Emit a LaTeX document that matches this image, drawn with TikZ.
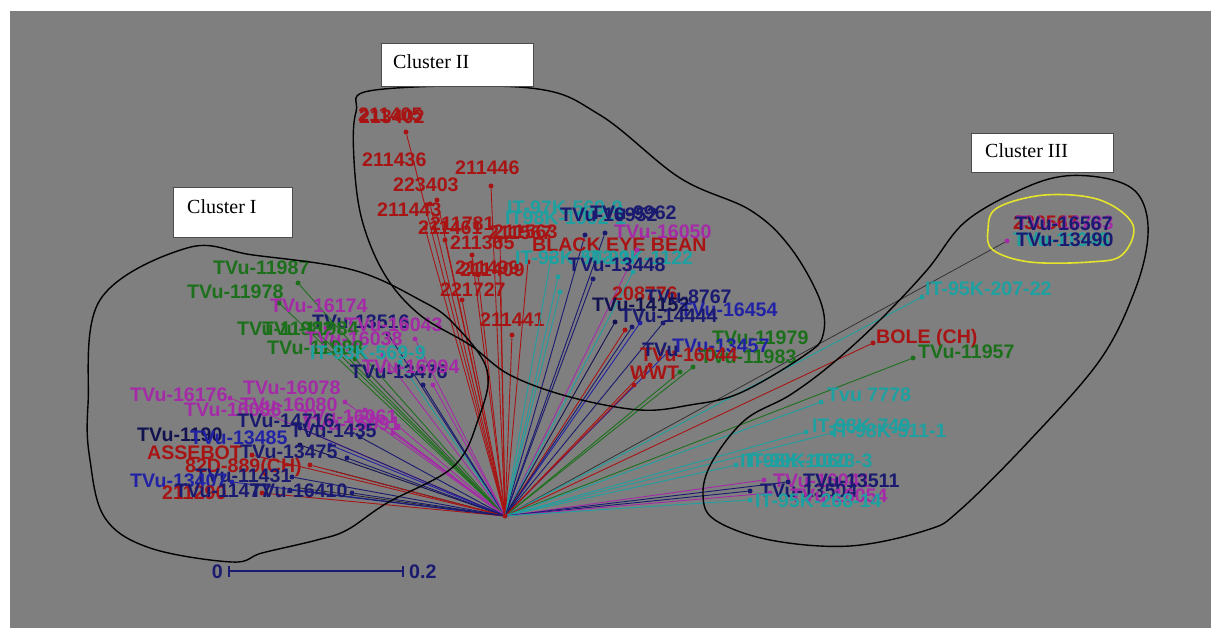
\documentclass[tikz,border=0pt]{standalone}
\usepackage{fontspec}
\setmainfont{Liberation Serif}
\newfontfamily\labfont{Liberation Sans}
\definecolor{bgc}{HTML}{7F7F7F}
\definecolor{rd}{HTML}{A81414}
\definecolor{gr}{HTML}{1C701C}
\definecolor{mg}{HTML}{A52AA8}
\definecolor{nv}{HTML}{1A1A70}
\definecolor{dn}{HTML}{121250}
\definecolor{bl}{HTML}{2222A6}
\definecolor{cy}{HTML}{1EA0A0}
\definecolor{yl}{HTML}{E4E42C}
\tikzset{
  lab/.style={font={\labfont\bfseries\fontsize{19.6}{19.6}\selectfont}, inner sep=0pt, anchor=west, text height=14pt, text depth=0pt},
  dotn/.style={circle, inner sep=0pt, minimum size=5pt, draw=none},
  br/.style={line width=0.9pt},
  outline/.style={draw=black, line width=1.4pt},
  cbox/.style={draw=black!70, fill=white, line width=0.8pt, anchor=north west, inner sep=0pt},
  ctext/.style={font={\fontsize{20}{20}\selectfont}, inner sep=0pt, anchor=west, text=black},
  scalebar/.style={draw=nv, line width=1.2pt}
}
\newcommand\myleaf[7]{\node[dotn,fill=#2] (#1) at (#3,#4) {}; \draw[br,#2] (root) -- (#1); \node[lab,text=#2] (#1l) at (#5,#6) {#7};}
\newcommand\mylab[5]{\node[lab,text=#2] (#1) at (#3,#4) {#5};}
\begin{document}
\begin{tikzpicture}[x=1pt,y=-1pt]
\useasboundingbox (0,0) rectangle (1211,628);
\fill[white] (0,0) rectangle (1211,628);
\fill[bgc] (10,11) rectangle (1211,628);

\node[dotn,fill=rd] (root) at (505,516) {};

% dark branches
\node[dotn,fill=mg] (top) at (1007,241) {};
\draw[line width=0.8pt, black!80] (root) -- (top);
\coordinate (k1) at (300,488);
\coordinate (k2) at (330,470);
\draw[line width=0.8pt, black!85] (root) -- (k1);
\draw[line width=0.8pt, black!85] (root) -- (k2);

% ---------- Cluster I ----------
\myleaf{a1}{gr}{298}{283}{213}{268}{TVu-11987}
\myleaf{a2}{gr}{279}{303}{187}{292}{TVu-11978}
\myleaf{a3}{mg}{326}{328}{270}{306}{TVu-16174}
\myleaf{a4}{nv}{388}{334}{312}{322}{TVu-13516}
\myleaf{a5}{mg}{415}{339}{345}{325}{TVu-16043}
\myleaf{a6}{gr}{320}{335}{237}{329}{TVu-11982}
\myleaf{a7}{gr}{332}{342}{262}{329}{TVu-11984}
\myleaf{a8}{mg}{383}{355}{305}{339}{TVu-16038}
\myleaf{a9}{gr}{355}{359}{267}{348}{TVu-11988}
\myleaf{a10}{cy}{400}{362}{310}{353}{IT-93K-569-9}
\myleaf{a11}{nv}{423}{385}{350}{372}{TVu-13476}
\myleaf{a12}{mg}{433}{385}{362}{367}{TVu-16094}
\myleaf{b1}{mg}{230}{398}{130}{395}{TVu-16176}
\myleaf{b2}{mg}{345}{402}{243}{388}{TVu-16078}
\myleaf{b3}{mg}{365}{410}{184}{410}{TVu-16086}
\myleaf{b4}{mg}{372}{415}{240}{405}{TVu-16080}
\myleaf{b5}{mg}{393}{433}{300}{417}{TVu-16061}
\myleaf{b6}{mg}{398}{426}{303}{424}{TVu-16091}
\myleaf{b7}{nv}{360}{437}{290}{430}{TVu-1435}
\myleaf{b8}{nv}{300}{428}{237}{421}{TVu-14716}
\myleaf{b9}{dn}{300}{445}{137}{435}{TVu-1190}
\myleaf{b10}{bl}{330}{445}{190}{437}{TVu-13485}
\myleaf{b11}{rd}{252}{455}{147}{452}{ASSEBOT}
\myleaf{b12}{nv}{347}{458}{240}{451}{TVu-13475}
\myleaf{b13}{rd}{310}{465}{185}{465}{82D-889(CH)}
\myleaf{b14}{nv}{292}{477}{195}{475}{TVu-11431}
\myleaf{b15}{bl}{232}{482}{130}{480}{TVu-13407}
\myleaf{b16}{rd}{262}{493}{162}{492}{211290}
\myleaf{b17}{nv}{290}{490}{175}{490}{TVu-11477}
\myleaf{b18}{nv}{352}{493}{250}{490}{TVu-16410}

% ---------- Cluster II ----------
\myleaf{c1}{rd}{406}{132}{358}{115}{211405}
\mylab{c1b}{rd}{359}{117}{213402}
\myleaf{c2}{rd}{430}{204}{362}{160}{211436}
\myleaf{c3}{rd}{491}{186}{455}{168}{211446}
\myleaf{c4}{rd}{437}{200}{393}{185}{223403}
\myleaf{c5}{rd}{425}{228}{377}{210}{211443}
\myleaf{c6}{rd}{445}{240}{418}{228}{211461}
\mylab{c6b}{rd}{430}{224}{211781}
\myleaf{c7}{rd}{472}{255}{450}{243}{211365}
\myleaf{c8}{rd}{500}{240}{488}{233}{211567}
\mylab{c8b}{rd}{493}{232}{211563}
\myleaf{c10}{rd}{478}{275}{455}{268}{211499}
\myleaf{c10b}{rd}{500}{272}{460}{270}{211409}
\myleaf{c11}{rd}{462}{300}{440}{290}{221727}
\myleaf{c12}{rd}{512}{335}{480}{320}{211441}
\myleaf{c13}{cy}{551}{258}{507}{208}{IT-97K-569-9}
\myleaf{c14}{cy}{558}{277}{505}{218}{IT98K-1092-1}
\myleaf{c15}{nv}{585}{235}{560}{215}{TVu-16952}
\myleaf{c16}{nv}{605}{233}{590}{213}{TVu-9962}
\myleaf{c9}{rd}{528}{262}{532}{245}{BLACK EYE BEAN}
\myleaf{c17}{mg}{637}{250}{614}{232}{TVu-16050}
\myleaf{c18}{cy}{560}{292}{515}{258}{IT-93K-503-1}
\myleaf{c19}{cy}{633}{272}{585}{258}{IT-99K-1122}
\myleaf{c20}{nv}{593}{279}{568}{265}{TVu-13448}
\myleaf{c21}{rd}{625}{330}{612}{294}{208776}
\myleaf{c22}{nv}{663}{323}{645}{297}{TVu-8767}
\myleaf{c23}{bl}{640}{323}{680}{310}{TVu-16454}
\myleaf{c24}{dn}{615}{322}{592}{305}{TVu-14152}
\myleaf{c25}{nv}{632}{327}{620}{316}{TVu-14444}
\myleaf{c26}{gr}{693}{367}{712}{338}{TVu-11979}
\myleaf{c27}{bl}{668}{352}{672}{346}{TVu-13457}
\myleaf{c28}{gr}{680}{372}{700}{357}{TVu-11983}
\myleaf{c29}{rd}{650}{365}{640}{355}{TVu-16044}
\mylab{c29b}{nv}{642}{350}{TVu}
\myleaf{c30}{rd}{634}{385}{630}{373}{WWT}

% ---------- Cluster III ----------
\myleaf{d1}{cy}{922}{297}{925}{289}{IT-95K-207-22}
\myleaf{d2}{rd}{873}{343}{876}{337}{BOLE (CH)}
\myleaf{d3}{gr}{913}{358}{918}{352}{TVu-11957}
\myleaf{d4}{cy}{821}{402}{827}{395}{Tvu 7778}
\myleaf{d5}{cy}{806}{432}{812}{425}{IT-98K-749}
\myleaf{d6}{cy}{832}{433}{832}{430}{IT-98K-511-1}
\myleaf{d7}{cy}{736}{465}{740}{460}{IT-98K-1060}
\mylab{d7b}{cy}{746}{460}{IT-99K-1028-3}
\myleaf{d9}{mg}{764}{480}{773}{480}{TVu-16041}
\myleaf{d10}{nv}{788}{482}{803}{480}{TVu-13511}
\myleaf{d11}{nv}{750}{491}{760}{490}{TVu-13504}
\myleaf{d12}{mg}{770}{493}{790}{495}{TVu-16054}
\myleaf{d13}{cy}{750}{500}{755}{500}{IT-95K-268-14}
\mylab{e1}{rd}{1013}{223}{230567}
\mylab{e2}{mg}{1016}{223}{TVu-16783}
\mylab{e3}{nv}{1015}{224}{TVu-16567}
\mylab{e4}{cy}{1013}{240}{TVu-11348}
\mylab{e5}{nv}{1016}{240}{TVu-13490}

% ---------- cluster outlines ----------
\draw[outline] plot[smooth cycle, tension=0.6] coordinates {(88,405) (100,300) (187,248) (253,255) (353,270) (420,300) (453,323) (487,370) (478,420) (453,467) (387,503) (347,530) (317,540) (262,553) (232,562) (150,548) (105,518) (90,460)};
\draw[outline] plot[smooth cycle, tension=0.6] coordinates {(375,90) (530,88) (600,115) (680,178) (750,210) (790,247) (820,300) (823,335) (805,355) (740,393) (690,405) (640,410) (570,397) (510,375) (470,345) (420,315) (385,275) (362,220) (354,160) (356,112)};
\draw[outline] plot[smooth cycle, tension=0.6] coordinates {(1020,190) (1065,176) (1113,180) (1140,197) (1148,235) (1135,290) (1100,360) (1030,440) (960,510) (927,530) (850,546) (770,540) (715,520) (703,495) (712,462) (745,420) (790,395) (833,363) (880,320) (927,270) (965,222)};
\draw[draw=yl, line width=1.6pt] plot[smooth cycle, tension=0.6] coordinates {(997,208) (1045,195) (1100,200) (1133,225) (1122,255) (1090,262) (1030,262) (993,250) (988,230)};

% ---------- cluster boxes ----------
\node[cbox, minimum width=119pt, minimum height=50pt] (box1) at (173,187) {};
\node[ctext] (t1) at (187,207) {Cluster I};
\node[cbox, minimum width=152pt, minimum height=43pt] (box2) at (381,43) {};
\node[ctext] (t2) at (393,62) {Cluster II};
\node[cbox, minimum width=142pt, minimum height=39pt] (box3) at (971,133) {};
\node[ctext] (t3) at (985,151) {Cluster III};

% ---------- scale bar ----------
\coordinate (s0) at (229,571);
\coordinate (s1) at (403,571);
\draw[scalebar] (s0) -- (s1);
\draw[scalebar] ([yshift=-5.5pt]s0) -- ([yshift=5.5pt]s0);
\draw[scalebar] ([yshift=-5.5pt]s1) -- ([yshift=5.5pt]s1);
\node[lab,text=nv,anchor=east] (z0) at (223,571) {0};
\node[lab,text=nv] (z1) at (409,571) {0.2};
\end{tikzpicture}
\end{document}
